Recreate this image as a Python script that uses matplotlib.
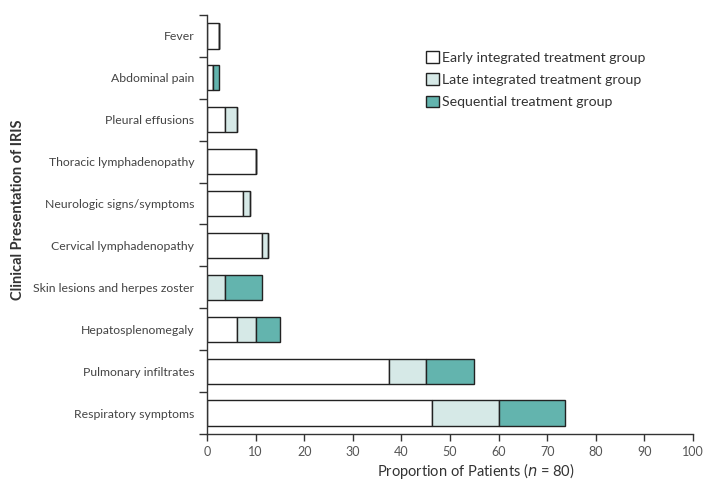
import matplotlib
matplotlib.use("Agg")
import matplotlib.pyplot as plt
import numpy as np

categories = ["Respiratory symptoms", "Pulmonary infiltrates", "Hepatosplenomegaly",
              "Skin lesions and herpes zoster", "Cervical lymphadenopathy",
              "Neurologic signs/symptoms", "Thoracic lymphadenopathy",
              "Pleural effusions", "Abdominal pain", "Fever"]
early = [46.25, 37.5, 6.25, 0.0, 11.25, 7.5, 10.0, 3.75, 1.25, 2.5]
late = [13.75, 7.5, 3.75, 3.75, 1.25, 1.25, 0.0, 2.5, 0.0, 0.0]
sequential = [13.75, 10.0, 5.0, 7.5, 0.0, 0.0, 0.0, 0.0, 1.25, 0.0]
series_names = ["Early integrated treatment group", "Late integrated treatment group",
                "Sequential treatment group"]
xticks = [0, 10, 20, 30, 40, 50, 60, 70, 80, 90, 100]

plt.rcParams['font.family'] = ['Lato', 'DejaVu Sans']
colors = ["#ffffff", "#d6e9e7", "#63b4ae"]

fig = plt.figure(figsize=(7.05, 4.82), dpi=100)
ax = fig.add_axes([0.2936, 0.0996, 0.6894, 0.8693])

y = np.arange(len(categories))
left = np.zeros(len(categories))
for vals, name, c in zip([early, late, sequential], series_names, colors):
    vals = np.array(vals)
    ax.barh(y, vals, left=left, height=0.6, color=c, edgecolor="#222222",
            linewidth=1.0, label=name)
    left = left + vals

ax.set_ylim(-0.5, len(categories) - 0.5)
ax.set_xlim(0, 100)
ax.set_xticks(xticks)
ax.set_xticklabels([str(t) for t in xticks], color="#555555", fontsize=9)
ax.set_yticks(np.arange(-0.5, len(categories), 1.0))
ax.set_yticklabels([])
ax.set_yticks(y, minor=True)
ax.set_yticklabels(categories, minor=True, color="#444444", fontsize=8.8)
ax.tick_params(axis='y', which='minor', length=0, pad=9)
ax.tick_params(axis='y', which='major', length=6, width=1, color="#333333")
ax.tick_params(axis='x', length=5, width=1, color="#333333", pad=4)

for s in ["top", "right"]:
    ax.spines[s].set_visible(False)
for s in ["left", "bottom"]:
    ax.spines[s].set_color("#333333")
    ax.spines[s].set_linewidth(1.0)

fig.text(18 / 705, 1 - 210 / 482, "Clinical Presentation of IRIS", fontsize=10.5,
         fontweight="bold", color="#333333", rotation=90, ha="center", va="center")
fig.text(476 / 705, 1 - 471 / 482, "Proportion of Patients ($\\it{n}$ = 80)",
         fontsize=10.5, color="#333333", ha="center", va="center")

leg = ax.legend(loc="upper left", bbox_to_anchor=(0.424, 0.945), frameon=False,
                fontsize=10.2, handlelength=0.9, handleheight=0.9,
                handletextpad=0.25, labelspacing=0.68)
for t in leg.get_texts():
    t.set_color("#333333")

fig.savefig("out.png", dpi=100)
